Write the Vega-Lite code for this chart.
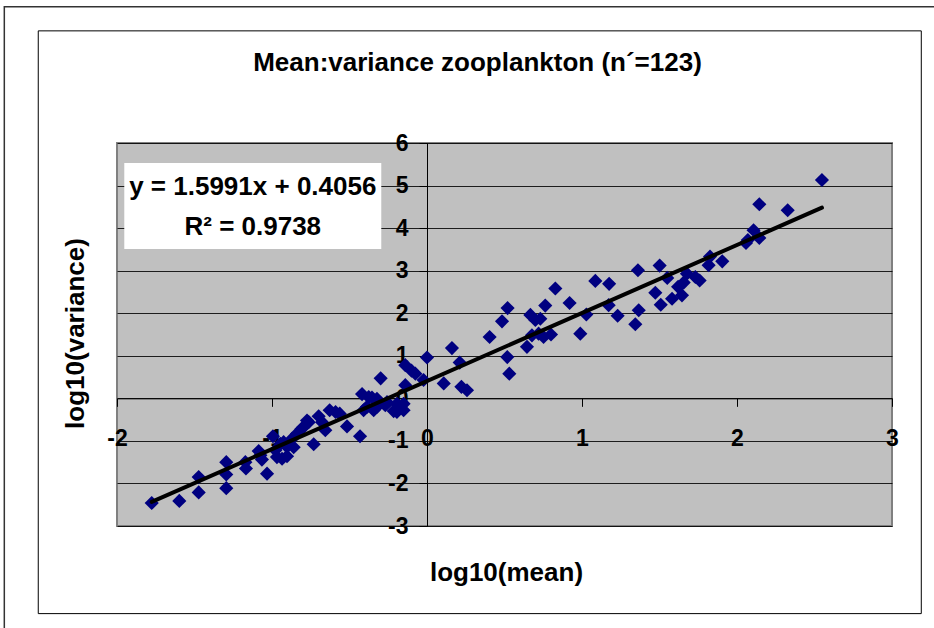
{
  "$schema": "https://vega.github.io/schema/vega-lite/v6.json",
  "autosize": {"type": "none"},
  "width": 775,
  "height": 383,
  "padding": {"left": 117, "top": 143, "right": 42, "bottom": 102},
  "background": "white",
  "config": {
    "view": {"fill": "#C0C0C0", "stroke": "#808080", "strokeWidth": 2},
    "font": "Liberation Sans"
  },
  "title": {
    "text": "Mean:variance zooplankton (n´=123)",
    "font": "Liberation Sans",
    "fontSize": 26,
    "fontWeight": "bold",
    "color": "#000",
    "anchor": "middle",
    "frame": "group",
    "baseline": "alphabetic",
    "offset": -91,
    "dx": -27
  },
  "layer": [
    {
      "data": {"values": [{"k": 1}]},
      "mark": {"type": "rect", "fill": null, "fillOpacity": 0, "stroke": "#000", "strokeWidth": 1},
      "encoding": {
        "x": {"datum": -2.508, "type": "quantitative", "scale": {"domain": [-2, 3], "nice": false, "zero": false}},
        "x2": {"datum": 3.189},
        "y": {"datum": 8.635, "type": "quantitative", "scale": {"domain": [-3, 6], "nice": false, "zero": false}},
        "y2": {"datum": -5.059}
      }
    },
    {
      "data": {"values": [{"k": 1}]},
      "mark": {"type": "rect", "fill": null, "fillOpacity": 0, "stroke": "#333", "strokeWidth": 1.5},
      "encoding": {
        "x": {"datum": -2.727, "type": "quantitative"},
        "x2": {"datum": 5},
        "y": {"datum": 9.2, "type": "quantitative"},
        "y2": {"datum": -10}
      }
    },
    {
      "data": {"values": [
        {"x": -1.776, "y": -2.46}, {"x": -1.598, "y": -2.41}, {"x": -1.473, "y": -1.85}, {"x": -1.473, "y": -2.21},
        {"x": -1.295, "y": -1.50}, {"x": -1.295, "y": -1.79}, {"x": -1.295, "y": -2.11}, {"x": -1.172, "y": -1.50},
        {"x": -1.168, "y": -1.65}, {"x": -1.086, "y": -1.24}, {"x": -1.075, "y": -1.34}, {"x": -1.065, "y": -1.44},
        {"x": -1.032, "y": -1.77}, {"x": -0.994, "y": -0.89}, {"x": -0.978, "y": -1.22}, {"x": -0.968, "y": -1.38},
        {"x": -0.946, "y": -1.07}, {"x": -0.935, "y": -1.42}, {"x": -0.903, "y": -1.36}, {"x": -0.903, "y": -1.14},
        {"x": -0.925, "y": -1.03}, {"x": -0.871, "y": -0.95}, {"x": -0.86, "y": -1.15}, {"x": -0.839, "y": -0.83},
        {"x": -0.81, "y": -0.72}, {"x": -0.796, "y": -0.67}, {"x": -0.774, "y": -0.52}, {"x": -0.763, "y": -0.56},
        {"x": -0.731, "y": -1.08}, {"x": -0.699, "y": -0.42}, {"x": -0.677, "y": -0.56}, {"x": -0.656, "y": -0.75},
        {"x": -0.628, "y": -0.28}, {"x": -0.59, "y": -0.32}, {"x": -0.563, "y": -0.36}, {"x": -0.516, "y": -0.66},
        {"x": -0.432, "y": -0.89}, {"x": -0.419, "y": 0.10}, {"x": -0.409, "y": -0.28}, {"x": -0.387, "y": -0.20},
        {"x": -0.376, "y": 0.03}, {"x": -0.355, "y": 0.02}, {"x": -0.344, "y": -0.28}, {"x": -0.323, "y": -0.01},
        {"x": -0.323, "y": -0.20}, {"x": -0.299, "y": 0.47}, {"x": -0.269, "y": -0.16}, {"x": -0.258, "y": -0.09},
        {"x": -0.215, "y": -0.30}, {"x": -0.194, "y": -0.13}, {"x": -0.194, "y": -0.32}, {"x": -0.151, "y": -0.28},
        {"x": -0.151, "y": -0.13}, {"x": -0.14, "y": 0.31}, {"x": -0.14, "y": 0.78}, {"x": -0.10, "y": 0.65},
        {"x": -0.075, "y": 0.58}, {"x": -0.022, "y": 0.43}, {"x": 0.0, "y": 0.96}, {"x": 0.108, "y": 0.35},
        {"x": 0.161, "y": 1.18}, {"x": 0.211, "y": 0.84}, {"x": 0.222, "y": 0.27}, {"x": 0.258, "y": 0.19},
        {"x": 0.404, "y": 1.44}, {"x": 0.484, "y": 1.81}, {"x": 0.52, "y": 2.12}, {"x": 0.518, "y": 0.97},
        {"x": 0.531, "y": 0.58}, {"x": 0.645, "y": 1.21}, {"x": 0.667, "y": 1.96}, {"x": 0.677, "y": 1.48},
        {"x": 0.699, "y": 1.84}, {"x": 0.72, "y": 1.52}, {"x": 0.731, "y": 1.87}, {"x": 0.752, "y": 1.44},
        {"x": 0.763, "y": 2.18}, {"x": 0.8, "y": 1.50}, {"x": 0.828, "y": 2.58}, {"x": 0.92, "y": 2.24},
        {"x": 0.989, "y": 1.52}, {"x": 1.028, "y": 1.97}, {"x": 1.086, "y": 2.76}, {"x": 1.175, "y": 2.69},
        {"x": 1.172, "y": 2.19}, {"x": 1.23, "y": 1.94}, {"x": 1.361, "y": 3.01}, {"x": 1.366, "y": 2.07},
        {"x": 1.344, "y": 1.74}, {"x": 1.501, "y": 3.12}, {"x": 1.473, "y": 2.48}, {"x": 1.508, "y": 2.20},
        {"x": 1.55, "y": 2.83}, {"x": 1.581, "y": 2.34}, {"x": 1.62, "y": 2.62}, {"x": 1.645, "y": 2.42},
        {"x": 1.656, "y": 2.72}, {"x": 1.677, "y": 2.93}, {"x": 1.731, "y": 2.85}, {"x": 1.759, "y": 2.77},
        {"x": 1.817, "y": 3.13}, {"x": 1.826, "y": 3.33}, {"x": 1.905, "y": 3.22}, {"x": 2.058, "y": 3.65},
        {"x": 2.07, "y": 3.72}, {"x": 2.107, "y": 3.95}, {"x": 2.144, "y": 3.77}, {"x": 2.144, "y": 4.56},
        {"x": 2.327, "y": 4.42}, {"x": 2.548, "y": 5.13}
      ]},
      "mark": {"type": "point", "shape": "diamond", "filled": true, "color": "#000080", "opacity": 1, "size": 200, "strokeWidth": 0},
      "encoding": {
        "x": {
          "field": "x", "type": "quantitative",
          "scale": {"domain": [-2, 3], "nice": false, "zero": false},
          "axis": {
            "values": [-2, -1, 0, 1, 2, 3],
            "labelExpr": "'' + datum.value",
            "offset": -127.67,
            "grid": false,
            "domainColor": "#000", "domainWidth": 1,
            "tickColor": "#000", "tickSize": 8, "tickWidth": 1,
            "labelFont": "Liberation Sans", "labelFontSize": 23, "labelFontWeight": "bold", "labelColor": "#000",
            "labelPadding": 21, "labelFlush": false, "labelOverlap": false,
            "title": "log10(mean)",
            "titleFont": "Liberation Sans", "titleFontSize": 26, "titleFontWeight": "bold", "titleColor": "#000",
            "titleX": 389, "titleY": 182, "titleBaseline": "alphabetic", "titleAlign": "center"
          }
        },
        "y": {
          "field": "y", "type": "quantitative",
          "scale": {"domain": [-3, 6], "nice": false, "zero": false},
          "axis": {
            "values": [-3, -2, -1, 0, 1, 2, 3, 4, 5, 6],
            "labelExpr": "'' + datum.value",
            "offset": -310,
            "grid": true, "gridColor": "#000", "gridWidth": 1, "gridOpacity": 0.85,
            "domainColor": "#000", "domainWidth": 1,
            "tickColor": "#000", "tickSize": 8, "tickWidth": 1,
            "labelFont": "Liberation Sans", "labelFontSize": 23, "labelFontWeight": "bold", "labelColor": "#000",
            "labelPadding": 11, "labelFlush": false, "labelOverlap": false,
            "title": "log10(variance)",
            "titleFont": "Liberation Sans", "titleFontSize": 26, "titleFontWeight": "bold", "titleColor": "#000",
            "titleAngle": -90, "titleX": -352, "titleY": 190, "titleBaseline": "middle", "titleAlign": "center"
          }
        }
      }
    },
    {
      "data": {"values": [{"x": -1.776, "y": -2.434}, {"x": 2.548, "y": 4.480}]},
      "mark": {"type": "line", "color": "#000", "strokeWidth": 4, "strokeCap": "round"},
      "encoding": {
        "x": {"field": "x", "type": "quantitative"},
        "y": {"field": "y", "type": "quantitative"}
      }
    },
    {
      "data": {"values": [{"k": 1}]},
      "mark": {"type": "rect", "fill": "white", "stroke": null},
      "encoding": {
        "x": {"datum": -1.953, "type": "quantitative"},
        "x2": {"datum": -0.295},
        "y": {"datum": 5.53, "type": "quantitative"},
        "y2": {"datum": 3.51}
      }
    },
    {
      "data": {"values": [
        {"label": "y = 1.5991x + 0.4056", "x": -1.124, "y": 4.776},
        {"label": "R² = 0.9738", "x": -1.124, "y": 3.835}
      ]},
      "mark": {"type": "text", "font": "Liberation Sans", "fontSize": 26, "fontWeight": "bold", "color": "#000", "align": "center", "baseline": "alphabetic"},
      "encoding": {
        "x": {"field": "x", "type": "quantitative"},
        "y": {"field": "y", "type": "quantitative"},
        "text": {"field": "label"}
      }
    }
  ]
}
